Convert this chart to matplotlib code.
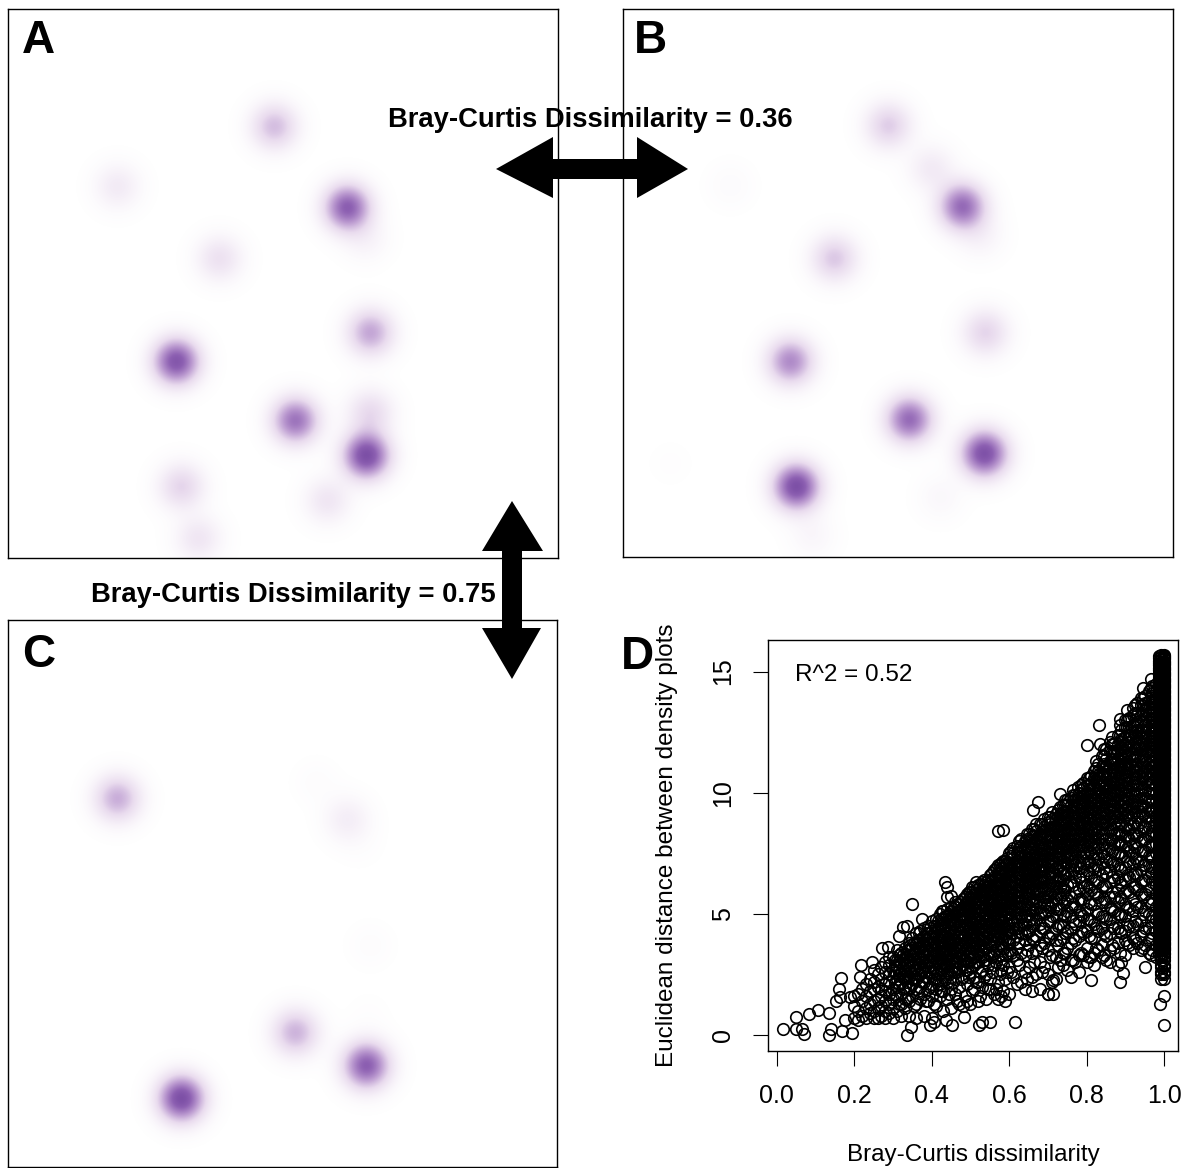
import numpy as np
import matplotlib.pyplot as plt
from matplotlib.colors import LinearSegmentedColormap
from matplotlib.patches import Polygon

plt.rcParams['font.family'] = ['Liberation Sans', 'DejaVu Sans']

W, H = 1185, 1168

a_x = [274, 117, 347, 365, 219, 370, 176, 295, 370, 366, 181, 327, 198]
a_y = [126, 186, 207, 238, 258, 332, 361, 420, 412, 455, 486, 500, 538]
a_s = [0.36, 0.14, 0.76, 0.08, 0.20, 0.45, 0.82, 0.66, 0.24, 0.88, 0.27, 0.17, 0.17]

b_x = [888, 931, 730, 962, 980, 834, 985, 790, 909, 984, 796, 940, 812, 670]
b_y = [125, 168, 185, 206, 235, 258, 332, 361, 419, 453, 486, 497, 535, 463]
b_s = [0.30, 0.14, 0.03, 0.70, 0.08, 0.32, 0.27, 0.56, 0.70, 0.86, 0.88, 0.05, 0.06, 0.01]

c_x = [117, 316, 347, 360, 370, 295, 366, 181, 368]
c_y = [798, 782, 819, 845, 945, 1032, 1065, 1098, 1015]
c_s = [0.42, 0.02, 0.12, 0.01, 0.02, 0.40, 0.76, 0.88, 0.01]

# scatter in panel D: the loose points
loose_x = [0.016, 0.05, 0.05, 0.065, 0.07, 0.083, 0.106, 0.134, 0.139, 0.134, 0.153, 0.16, 0.165,
           0.162, 0.19, 0.167, 0.195, 0.176, 0.214, 0.216, 0.246, 0.271, 0.288, 0.316, 0.325, 0.335,
           0.349, 0.375, 0.367, 0.335, 0.347, 0.435, 0.44, 0.44, 0.45, 0.426, 0.484, 0.521, 0.531,
           0.55, 0.615, 0.571, 0.585, 0.661, 0.675, 0.731, 0.778, 0.801, 0.832, 0.834, 0.885, 1.0,
           0.99, 1.0, 0.95, 0.81, 0.713, 0.699, 0.713, 0.885, 0.895, 0.395, 0.405, 0.437, 0.452]
loose_y = [0.25, 0.75, 0.25, 0.25, 0.05, 0.87, 1.04, 0.0, 0.25, 0.9, 1.4, 1.9, 2.35,
           1.55, 1.55, 0.17, 0.1, 0.6, 2.4, 2.9, 3.0, 3.6, 3.65, 4.1, 4.45, 4.5,
           5.4, 4.8, 4.2, 0.0, 0.32, 6.3, 6.1, 5.7, 5.75, 5.1, 0.75, 0.4, 0.55,
           0.55, 0.55, 8.4, 8.45, 9.3, 9.6, 9.95, 10.25, 11.95, 12.8, 12.0, 13.05, 0.43,
           1.3, 1.6, 2.8, 2.25, 1.7, 1.7, 2.25, 2.2, 2.55, 0.4, 0.55, 0.6, 0.4]

# scatter in panel D: the crowded wedge, one list of y per x
wedge_x = [0.20, 0.21, 0.22, 0.23, 0.24, 0.25, 0.26, 0.27, 0.28, 0.29,
           0.30, 0.31, 0.32, 0.33, 0.34, 0.35, 0.36, 0.37, 0.38, 0.39,
           0.40, 0.41, 0.42, 0.43, 0.44, 0.45, 0.46, 0.47, 0.48, 0.49,
           0.50, 0.51, 0.52, 0.53, 0.54, 0.55, 0.56, 0.57, 0.58, 0.59,
           0.60, 0.62, 0.64, 0.66, 0.68, 0.70, 0.72, 0.74, 0.76, 0.78,
           0.80, 0.82, 0.84, 0.86, 0.88, 0.90, 0.92, 0.94, 0.96, 0.98]
wedge_y = [
    [0.7, 1.2, 1.6],
    [0.6, 1.0, 1.7],
    [0.8, 1.4, 1.9],
    [0.7, 1.1, 1.6, 2.1],
    [0.9, 1.3, 1.8, 2.3],
    [0.7, 1.0, 1.4, 1.9, 2.2, 2.7],
    [0.7, 1.1, 1.5, 2.0, 2.5],
    [0.8, 1.2, 1.6, 1.9, 2.3, 2.8],
    [0.7, 1.0, 1.4, 1.8, 2.1, 2.6, 3.0],
    [0.9, 1.3, 1.7, 2.2, 2.5, 2.9, 3.2],
    [0.7, 1.1, 1.5, 1.9, 2.4, 2.7, 3.2],
    [1.0, 1.6, 2.0, 2.3, 2.8, 3.1, 3.5],
    [0.8, 1.3, 1.7, 2.2, 2.6, 3.0, 3.4],
    [1.1, 1.5, 2.0, 2.3, 2.7, 3.2, 3.6],
    [0.8, 1.4, 1.9, 2.4, 2.8, 3.1, 3.5, 3.8],
    [1.6, 2.1, 2.5, 2.9, 3.3, 3.6, 4.0],
    [0.7, 1.3, 1.9, 2.3, 2.7, 3.0, 3.4, 3.8, 4.2],
    [1.5, 2.0, 2.5, 2.8, 3.2, 3.6, 3.9, 4.3],
    [0.8, 1.7, 2.2, 2.6, 3.0, 3.3, 3.7, 4.1, 4.4],
    [1.4, 1.9, 2.4, 2.8, 3.1, 3.5, 3.8, 4.2, 4.5],
    [0.7, 1.6, 2.1, 2.6, 2.9, 3.3, 3.6, 4.0, 4.3, 4.7],
    [1.2, 1.9, 2.3, 2.7, 3.1, 3.4, 3.8, 4.1, 4.5, 4.8],
    [1.6, 2.1, 2.5, 2.9, 3.2, 3.6, 3.9, 4.3, 4.6, 5.0],
    [1.0, 1.8, 2.4, 2.8, 3.0, 3.4, 3.7, 4.1, 4.4, 4.8, 5.1],
    [1.5, 2.2, 2.6, 2.9, 3.3, 3.6, 3.9, 4.2, 4.6, 4.9, 5.2],
    [1.1, 1.9, 2.4, 2.7, 3.1, 3.4, 3.8, 4.1, 4.4, 4.8, 5.1, 5.3],
    [1.7, 2.3, 2.6, 3.0, 3.3, 3.6, 3.9, 4.3, 4.6, 5.0, 5.3, 5.5],
    [1.3, 2.0, 2.8, 3.2, 3.5, 3.8, 4.1, 4.5, 4.8, 5.1, 5.4],
    [1.2, 2.4, 2.9, 3.1, 3.4, 3.7, 4.0, 4.4, 4.7, 5.0, 5.3, 5.6],
    [1.4, 2.1, 2.7, 3.0, 3.3, 3.6, 3.9, 4.3, 4.6, 4.9, 5.2, 5.5, 5.8],
    [1.3, 2.6, 3.1, 3.4, 3.7, 4.0, 4.2, 4.5, 4.8, 5.1, 5.4, 5.7, 5.9],
    [1.9, 2.4, 2.9, 3.2, 3.6, 3.9, 4.3, 4.6, 4.9, 5.2, 5.5, 5.8, 6.1],
    [1.4, 2.2, 3.0, 3.4, 3.7, 4.1, 4.4, 4.7, 5.0, 5.3, 5.6, 5.9, 6.2],
    [2.0, 2.7, 3.2, 3.5, 3.9, 4.2, 4.5, 4.8, 5.2, 5.5, 5.8, 6.0, 6.3],
    [1.5, 2.5, 3.1, 3.6, 4.0, 4.3, 4.6, 4.9, 5.3, 5.6, 5.9, 6.1, 6.3],
    [1.9, 2.3, 3.3, 3.7, 3.9, 4.2, 4.5, 4.8, 5.1, 5.4, 5.7, 6.0, 6.3, 6.6],
    [1.7, 2.9, 3.4, 3.8, 4.1, 4.4, 4.7, 5.0, 5.3, 5.6, 5.9, 6.2, 6.5, 6.8],
    [1.5, 2.2, 3.2, 3.6, 4.0, 4.3, 4.6, 4.9, 5.2, 5.5, 5.8, 6.1, 6.4, 6.7, 7.0],
    [1.6, 2.7, 3.0, 3.7, 4.1, 4.4, 4.8, 5.1, 5.4, 5.7, 6.0, 6.3, 6.6, 6.9, 7.1],
    [1.4, 2.3, 3.3, 3.9, 4.2, 4.5, 4.9, 5.2, 5.5, 5.8, 6.1, 6.4, 6.7, 7.0, 7.2],
    [1.7, 2.8, 3.5, 3.8, 4.0, 4.3, 4.6, 5.0, 5.3, 5.6, 5.9, 6.2, 6.5, 6.8, 7.1, 7.5],
    [2.1, 3.1, 3.6, 4.1, 4.4, 4.7, 5.0, 5.3, 5.5, 5.7, 6.0, 6.2, 6.5, 6.7, 7.0, 7.2, 7.5, 7.8],
    [1.9, 2.6, 3.3, 3.9, 4.2, 4.6, 4.9, 5.2, 5.4, 5.7, 5.9, 6.2, 6.4, 6.7, 6.9, 7.2, 7.4, 7.7, 8.0],
    [1.8, 2.4, 3.4, 4.0, 4.5, 4.8, 5.1, 5.4, 5.6, 5.9, 6.1, 6.4, 6.6, 6.9, 7.1, 7.4, 7.7, 7.9, 8.2, 8.5],
    [1.9, 3.0, 3.7, 4.3, 4.6, 5.0, 5.3, 5.5, 5.8, 6.0, 6.3, 6.5, 6.8, 7.0, 7.3, 7.5, 7.8, 8.1, 8.3, 8.7],
    [1.7, 2.5, 3.5, 4.1, 4.7, 5.1, 5.4, 5.7, 6.0, 6.2, 6.5, 6.7, 7.0, 7.2, 7.5, 7.7, 8.0, 8.2, 8.5, 8.8, 9.0],
    [2.3, 3.2, 3.9, 4.4, 4.9, 5.2, 5.6, 5.9, 6.1, 6.4, 6.6, 6.9, 7.1, 7.4, 7.6, 7.9, 8.1, 8.4, 8.6, 8.9, 9.1],
    [2.9, 3.4, 4.0, 4.5, 5.0, 5.4, 5.8, 6.1, 6.4, 6.7, 6.9, 7.2, 7.4, 7.7, 7.9, 8.2, 8.4, 8.7, 8.9, 9.2, 9.5],
    [2.4, 3.1, 3.8, 4.4, 4.9, 5.3, 5.7, 6.3, 6.7, 7.0, 7.3, 7.5, 7.8, 8.0, 8.3, 8.5, 8.8, 9.0, 9.3, 9.5, 9.8],
    [2.6, 3.3, 4.1, 4.7, 5.1, 5.6, 6.0, 6.5, 6.9, 7.2, 7.6, 7.8, 8.1, 8.3, 8.6, 8.8, 9.1, 9.3, 9.6, 9.8, 10.0],
    [3.0, 3.6, 4.3, 4.8, 5.2, 5.8, 6.2, 6.8, 7.1, 7.5, 7.8, 8.0, 8.3, 8.5, 8.8, 9.0, 9.3, 9.5, 9.8, 10.0, 10.3, 10.6],
    [2.9, 3.4, 4.0, 4.6, 5.4, 5.9, 6.4, 6.9, 7.3, 7.7, 8.0, 8.3, 8.5, 8.8, 9.0, 9.3, 9.5, 9.8, 10.0, 10.3, 10.6, 10.9],
    [3.2, 3.7, 4.4, 4.9, 5.5, 6.1, 6.6, 7.1, 7.5, 7.9, 8.2, 8.5, 8.8, 9.0, 9.3, 9.5, 9.8, 10.0, 10.3, 10.5, 10.8, 11.1, 11.5],
    [3.0, 3.5, 4.2, 4.8, 5.3, 5.7, 6.3, 6.8, 7.2, 7.7, 8.1, 8.4, 8.7, 9.0, 9.3, 9.5, 9.8, 10.0, 10.3, 10.5, 10.8, 11.0, 11.3, 11.7, 12.1],
    [2.9, 3.8, 4.4, 5.0, 5.5, 6.0, 6.5, 7.0, 7.5, 7.9, 8.3, 8.7, 9.0, 9.3, 9.6, 9.9, 10.1, 10.4, 10.6, 10.9, 11.1, 11.4, 11.7, 12.0, 12.4],
    [3.3, 3.9, 4.3, 4.9, 5.4, 5.9, 6.4, 6.9, 7.4, 7.8, 8.2, 8.6, 9.0, 9.3, 9.6, 9.9, 10.2, 10.5, 10.7, 11.0, 11.2, 11.5, 11.7, 12.0, 12.3, 12.7, 13.0],
    [3.6, 4.0, 4.5, 5.1, 5.6, 6.1, 6.6, 7.1, 7.5, 7.9, 8.3, 8.7, 9.1, 9.4, 9.7, 10.0, 10.3, 10.6, 10.9, 11.1, 11.4, 11.6, 11.9, 12.2, 12.5, 12.8, 13.2, 13.5],
    [3.5, 4.1, 4.7, 5.3, 5.8, 6.3, 6.8, 7.2, 7.6, 8.0, 8.4, 8.8, 9.2, 9.5, 9.8, 10.1, 10.4, 10.7, 11.0, 11.3, 11.5, 11.8, 12.0, 12.3, 12.6, 12.9, 13.2, 13.6, 13.9],
    [3.4, 3.9, 4.4, 5.0, 5.5, 6.0, 6.5, 7.0, 7.4, 7.8, 8.2, 8.6, 9.0, 9.3, 9.7, 10.0, 10.3, 10.6, 10.9, 11.2, 11.5, 11.7, 12.0, 12.3, 12.6, 12.9, 13.2, 13.5, 13.8, 14.2],
    [3.2, 3.7, 4.3, 4.8, 5.3, 5.8, 6.2, 6.7, 7.1, 7.5, 7.9, 8.3, 8.7, 9.0, 9.4, 9.7, 10.0, 10.3, 10.6, 10.9, 11.2, 11.5, 11.8, 12.1, 12.4, 12.7, 13.0, 13.3, 13.6, 13.9, 14.2, 14.5],
]

# more of the crowded wedge, between the columns above
fill_x = [0.305, 0.315, 0.325, 0.335, 0.345, 0.355, 0.365, 0.375, 0.385, 0.395,
          0.405, 0.415, 0.425, 0.435, 0.445, 0.455, 0.465, 0.475, 0.485, 0.495,
          0.505, 0.515, 0.525, 0.535, 0.545, 0.555, 0.565, 0.575, 0.585, 0.595,
          0.61, 0.63, 0.65, 0.67, 0.69, 0.71, 0.73, 0.75, 0.77, 0.79,
          0.81, 0.83, 0.85, 0.87, 0.89, 0.91, 0.93, 0.95, 0.97,
          0.605, 0.625, 0.645, 0.665, 0.685, 0.705, 0.725, 0.745, 0.765, 0.785,
          0.805, 0.825, 0.845, 0.865, 0.885, 0.905, 0.925, 0.945, 0.965, 0.985]
fill_y = [
    [1.7, 2.2, 2.6, 2.9, 3.1],
    [1.3, 2.1, 2.5, 2.7, 3.0, 3.3],
    [1.9, 2.4, 2.8, 3.1, 3.3],
    [1.5, 2.2, 2.5, 2.9, 3.2, 3.5],
    [2.0, 2.6, 3.0, 3.3, 3.7],
    [1.2, 2.3, 2.7, 3.1, 3.4, 3.8],
    [1.8, 2.5, 2.9, 3.2, 3.6, 3.9],
    [2.2, 2.7, 3.0, 3.4, 3.7, 4.0],
    [1.4, 2.4, 2.9, 3.2, 3.5, 3.9, 4.2],
    [2.0, 2.6, 3.0, 3.4, 3.7, 4.1, 4.4],
    [1.3, 2.3, 2.8, 3.2, 3.5, 3.8, 4.2, 4.5],
    [2.1, 2.6, 3.0, 3.3, 3.7, 4.0, 4.4, 4.7],
    [1.8, 2.7, 3.1, 3.4, 3.8, 4.1, 4.5, 4.8],
    [2.3, 2.9, 3.2, 3.5, 3.8, 4.2, 4.5, 4.9],
    [1.7, 2.5, 3.0, 3.4, 3.7, 4.0, 4.3, 4.7, 5.0],
    [2.2, 2.8, 3.2, 3.5, 3.9, 4.2, 4.6, 4.9, 5.2],
    [1.4, 2.6, 3.0, 3.4, 3.7, 4.0, 4.4, 4.7, 5.1, 5.4],
    [2.3, 2.9, 3.3, 3.6, 3.9, 4.2, 4.5, 4.9, 5.2, 5.5],
    [1.6, 2.7, 3.1, 3.5, 3.8, 4.1, 4.5, 4.8, 5.1, 5.4, 5.7],
    [2.4, 3.0, 3.4, 3.7, 4.1, 4.4, 4.7, 5.0, 5.3, 5.6, 5.9],
    [1.8, 2.8, 3.2, 3.6, 3.9, 4.2, 4.6, 4.9, 5.3, 5.6, 5.9, 6.1],
    [2.2, 3.0, 3.5, 3.8, 4.1, 4.5, 4.8, 5.1, 5.4, 5.7, 6.0, 6.3],
    [1.6, 2.6, 3.3, 3.7, 4.0, 4.4, 4.7, 5.0, 5.3, 5.6, 5.9, 6.2],
    [2.4, 3.1, 3.6, 4.0, 4.3, 4.6, 5.0, 5.3, 5.7, 6.0, 6.2, 6.4],
    [1.9, 2.9, 3.4, 3.8, 4.2, 4.5, 4.8, 5.2, 5.5, 5.8, 6.1, 6.4],
    [2.6, 3.2, 3.7, 4.1, 4.4, 4.7, 5.1, 5.4, 5.7, 6.0, 6.4, 6.7],
    [1.9, 3.0, 3.5, 3.9, 4.3, 4.6, 5.0, 5.3, 5.6, 5.9, 6.2, 6.5, 6.9],
    [2.5, 3.3, 3.8, 4.2, 4.5, 4.8, 5.1, 5.5, 5.8, 6.1, 6.4, 6.7, 7.0],
    [1.8, 2.9, 3.6, 4.0, 4.4, 4.7, 5.1, 5.4, 5.7, 6.0, 6.3, 6.6, 6.9, 7.2],
    [2.6, 3.4, 3.9, 4.3, 4.6, 5.0, 5.3, 5.6, 5.9, 6.2, 6.5, 6.8, 7.1, 7.3],
    [2.4, 3.3, 3.9, 4.4, 4.7, 5.1, 5.4, 5.6, 5.8, 6.1, 6.3, 6.6, 6.8, 7.0, 7.3, 7.5, 7.7],
    [2.2, 3.4, 4.2, 4.6, 4.9, 5.2, 5.5, 5.7, 5.9, 6.2, 6.4, 6.7, 6.9, 7.1, 7.4, 7.6, 7.8, 8.1],
    [2.8, 3.7, 4.3, 4.7, 5.0, 5.3, 5.6, 5.8, 6.1, 6.3, 6.6, 6.8, 7.1, 7.3, 7.5, 7.7, 8.0, 8.3],
    [2.5, 3.5, 4.1, 4.8, 5.2, 5.5, 5.8, 6.0, 6.3, 6.5, 6.7, 7.0, 7.2, 7.4, 7.6, 7.9, 8.1, 8.4, 8.7],
    [2.8, 3.8, 4.4, 5.0, 5.4, 5.7, 6.0, 6.3, 6.5, 6.8, 7.0, 7.2, 7.4, 7.7, 7.9, 8.2, 8.4, 8.6, 8.9],
    [2.2, 3.3, 4.2, 4.9, 5.5, 5.9, 6.2, 6.5, 6.7, 7.0, 7.2, 7.5, 7.7, 7.9, 8.2, 8.4, 8.6, 8.9, 9.2],
    [3.1, 3.9, 4.6, 5.2, 5.7, 6.1, 6.4, 6.8, 7.0, 7.3, 7.5, 7.7, 8.0, 8.2, 8.4, 8.7, 8.9, 9.1, 9.4],
    [2.7, 3.6, 4.3, 5.1, 5.6, 6.2, 6.7, 7.1, 7.4, 7.6, 7.9, 8.1, 8.3, 8.5, 8.8, 9.0, 9.2, 9.5, 9.7],
    [3.0, 3.9, 4.6, 5.3, 5.9, 6.5, 7.0, 7.3, 7.6, 7.8, 8.1, 8.3, 8.5, 8.7, 9.0, 9.2, 9.4, 9.7, 9.9],
    [3.3, 4.2, 4.9, 5.5, 6.1, 6.6, 7.1, 7.5, 7.8, 8.1, 8.3, 8.6, 8.8, 9.0, 9.2, 9.5, 9.7, 9.9, 10.2, 10.4],
    [3.2, 4.0, 4.7, 5.4, 6.0, 6.5, 7.0, 7.5, 7.9, 8.2, 8.5, 8.7, 8.9, 9.2, 9.4, 9.6, 9.9, 10.1, 10.4, 10.7],
    [3.5, 4.3, 5.0, 5.7, 6.3, 6.8, 7.3, 7.7, 8.1, 8.4, 8.7, 8.9, 9.2, 9.4, 9.6, 9.9, 10.1, 10.3, 10.6, 10.9, 11.2],
    [3.1, 4.1, 4.8, 5.5, 6.1, 6.7, 7.2, 7.7, 8.1, 8.5, 8.8, 9.1, 9.4, 9.6, 9.8, 10.1, 10.3, 10.6, 10.9, 11.1, 11.4, 11.8],
    [3.6, 4.4, 5.1, 5.7, 6.4, 7.0, 7.5, 7.9, 8.3, 8.7, 9.0, 9.3, 9.6, 9.9, 10.1, 10.4, 10.7, 10.9, 11.2, 11.4, 11.7, 12.0],
    [3.0, 4.2, 4.9, 5.6, 6.2, 6.8, 7.4, 7.9, 8.3, 8.7, 9.1, 9.4, 9.7, 10.0, 10.3, 10.6, 10.8, 11.1, 11.3, 11.6, 11.9, 12.2, 12.6],
    [3.7, 4.5, 5.2, 5.9, 6.5, 7.1, 7.6, 8.1, 8.5, 8.9, 9.2, 9.5, 9.8, 10.1, 10.4, 10.7, 11.0, 11.2, 11.5, 11.8, 12.1, 12.4, 12.7, 13.1],
    [3.8, 4.6, 5.3, 6.0, 6.6, 7.2, 7.7, 8.2, 8.6, 9.0, 9.4, 9.7, 10.0, 10.3, 10.6, 10.9, 11.2, 11.5, 11.8, 12.0, 12.3, 12.6, 12.9, 13.3, 13.7],
    [3.7, 4.4, 5.1, 5.8, 6.4, 7.0, 7.6, 8.1, 8.6, 9.0, 9.4, 9.8, 10.1, 10.5, 10.8, 11.1, 11.4, 11.7, 12.0, 12.3, 12.5, 12.8, 13.1, 13.4, 13.7, 14.0],
    [3.5, 4.2, 4.9, 5.6, 6.3, 6.9, 7.4, 7.9, 8.4, 8.9, 9.3, 9.7, 10.1, 10.4, 10.8, 11.1, 11.4, 11.7, 12.0, 12.3, 12.6, 12.9, 13.2, 13.5, 13.8, 14.1, 14.4],
    [2.6, 3.4, 4.2, 4.8, 5.2, 5.5, 5.8, 6.1, 6.4, 6.6, 6.9, 7.1, 7.4, 7.6],
    [2.9, 3.8, 4.4, 5.0, 5.3, 5.7, 6.0, 6.2, 6.5, 6.7, 7.0, 7.2, 7.5, 7.7, 8.0],
    [2.3, 3.5, 4.3, 4.9, 5.4, 5.8, 6.1, 6.4, 6.6, 6.9, 7.1, 7.3, 7.6, 7.8, 8.1, 8.3],
    [3.0, 3.9, 4.6, 5.2, 5.6, 6.0, 6.3, 6.6, 6.8, 7.0, 7.3, 7.5, 7.7, 8.0, 8.2, 8.5],
    [2.6, 3.6, 4.4, 5.1, 5.7, 6.1, 6.5, 6.8, 7.0, 7.2, 7.5, 7.7, 7.9, 8.2, 8.4, 8.7],
    [3.2, 4.0, 4.7, 5.3, 5.8, 6.3, 6.7, 7.0, 7.3, 7.5, 7.8, 8.0, 8.2, 8.5, 8.7, 9.0],
    [2.8, 3.7, 4.5, 5.2, 5.8, 6.4, 6.9, 7.3, 7.6, 7.8, 8.0, 8.3, 8.5, 8.7, 9.0, 9.3],
    [3.4, 4.2, 4.9, 5.5, 6.0, 6.6, 7.1, 7.5, 7.8, 8.0, 8.3, 8.5, 8.8, 9.0, 9.2, 9.5, 9.7],
    [3.1, 4.0, 4.7, 5.4, 6.2, 6.8, 7.2, 7.6, 7.9, 8.2, 8.5, 8.7, 9.0, 9.2, 9.4, 9.7, 9.9, 10.1],
    [3.4, 4.3, 5.0, 5.6, 6.3, 6.9, 7.4, 7.8, 8.1, 8.4, 8.7, 8.9, 9.1, 9.4, 9.6, 9.8, 10.1, 10.3],
    [3.2, 4.1, 4.8, 5.5, 6.1, 6.7, 7.2, 7.6, 8.0, 8.3, 8.6, 8.9, 9.2, 9.4, 9.6, 9.9, 10.1, 10.3, 10.6],
    [3.6, 4.4, 5.1, 5.8, 6.4, 7.0, 7.5, 7.9, 8.3, 8.6, 8.9, 9.2, 9.5, 9.7, 10.0, 10.2, 10.5, 10.7, 11.0, 11.3],
    [3.3, 4.2, 4.9, 5.6, 6.2, 6.9, 7.4, 7.9, 8.3, 8.7, 9.0, 9.3, 9.6, 9.9, 10.2, 10.4, 10.7, 11.0, 11.2, 11.5, 11.8],
    [3.7, 4.5, 5.2, 5.9, 6.5, 7.1, 7.6, 8.1, 8.5, 8.9, 9.2, 9.5, 9.8, 10.1, 10.4, 10.6, 10.9, 11.2, 11.4, 11.7, 12.0, 12.3],
    [3.4, 4.3, 5.0, 5.7, 6.3, 6.9, 7.5, 8.0, 8.4, 8.8, 9.2, 9.5, 9.8, 10.1, 10.4, 10.7, 11.0, 11.2, 11.5, 11.8, 12.1, 12.4, 12.8],
    [3.8, 4.6, 5.3, 6.0, 6.6, 7.2, 7.7, 8.2, 8.7, 9.1, 9.4, 9.8, 10.1, 10.4, 10.7, 11.0, 11.3, 11.6, 11.9, 12.1, 12.4, 12.7, 13.0, 13.4],
    [3.9, 4.7, 5.4, 6.1, 6.7, 7.3, 7.8, 8.3, 8.8, 9.2, 9.6, 9.9, 10.3, 10.6, 10.9, 11.2, 11.5, 11.8, 12.1, 12.4, 12.7, 13.0, 13.3, 13.6],
    [3.6, 4.3, 5.0, 5.7, 6.4, 7.0, 7.6, 8.1, 8.6, 9.1, 9.5, 9.9, 10.2, 10.6, 10.9, 11.2, 11.5, 11.8, 12.1, 12.4, 12.7, 13.0, 13.3, 13.6, 13.9, 14.3],
    [3.3, 4.0, 4.7, 5.4, 6.1, 6.7, 7.3, 7.8, 8.3, 8.8, 9.2, 9.6, 10.0, 10.4, 10.7, 11.0, 11.3, 11.6, 11.9, 12.2, 12.5, 12.8, 13.1, 13.4, 13.7, 14.0, 14.3, 14.7],
]

# scatter in panel D: the solid stack at dissimilarity = 1
edge_x = [1.0, 0.993]
edge_y = [2.3, 2.5, 2.6, 2.8, 2.9, 3.1, 3.2, 3.4, 3.5, 3.6, 3.7, 3.8, 3.9, 4.0, 4.1, 4.2, 4.3, 4.4, 4.5, 4.6,
          4.7, 4.8, 4.9, 5.0, 5.1, 5.2, 5.3, 5.4, 5.5, 5.6, 5.7, 5.8, 5.9, 6.0, 6.1, 6.2, 6.3, 6.4, 6.5, 6.6,
          6.7, 6.8, 6.9, 7.0, 7.1, 7.2, 7.3, 7.4, 7.5, 7.6, 7.7, 7.8, 7.9, 8.0, 8.1, 8.2, 8.3, 8.4, 8.5, 8.6,
          8.7, 8.8, 8.9, 9.0, 9.1, 9.2, 9.3, 9.4, 9.5, 9.6, 9.7, 9.8, 9.9, 10.0, 10.1, 10.2, 10.3, 10.4, 10.5,
          10.6, 10.7, 10.8, 10.9, 11.0, 11.1, 11.2, 11.3, 11.4, 11.5, 11.6, 11.7, 11.8, 11.9, 12.0, 12.1, 12.2,
          12.3, 12.4, 12.5, 12.6, 12.7, 12.8, 12.9, 13.0, 13.1, 13.2, 13.3, 13.4, 13.5, 13.6, 13.7, 13.8, 13.9,
          14.0, 14.1, 14.2, 14.3, 14.4, 14.5, 14.6, 14.7, 14.8, 14.9, 15.0, 15.1, 15.2, 15.3, 15.4, 15.5, 15.6, 15.7]
edge2_x = [1.0, 0.986]
edge2_y = [3.35, 3.55, 3.65, 3.75, 3.85, 3.95, 4.05, 4.15, 4.25, 4.35, 4.45, 4.55, 4.65, 4.75, 4.85, 4.95,
           5.05, 5.15, 5.25, 5.35, 5.45, 5.55, 5.65, 5.75, 5.85, 5.95, 6.05, 6.15, 6.25, 6.35, 6.45, 6.55,
           6.65, 6.75, 6.85, 6.95, 7.05, 7.15, 7.25, 7.35, 7.45, 7.55, 7.65, 7.75, 7.85, 7.95, 8.05, 8.15,
           8.25, 8.35, 8.45, 8.55, 8.65, 8.75, 8.85, 8.95, 9.05, 9.15, 9.25, 9.35, 9.45, 9.55, 9.65, 9.75,
           9.85, 9.95, 10.05, 10.15, 10.25, 10.35, 10.45, 10.55, 10.65, 10.75, 10.85, 10.95, 11.05, 11.15,
           11.25, 11.35, 11.45, 11.55, 11.65, 11.75, 11.85, 11.95, 12.05, 12.15, 12.25, 12.35, 12.45, 12.55,
           12.65, 12.75, 12.85, 12.95, 13.05, 13.15, 13.25, 13.35, 13.45, 13.55, 13.65, 13.75, 13.85, 13.95,
           14.05, 14.15, 14.25, 14.35, 14.45, 14.55, 14.65, 14.75, 14.85, 14.95, 15.05, 15.15, 15.25, 15.35,
           15.45, 15.55, 15.65]

x_ticks = [0.0, 0.2, 0.4, 0.6, 0.8, 1.0]
y_ticks = [0, 5, 10, 15]

purple = LinearSegmentedColormap.from_list(
    'blob', ['#ffffff', '#e9dbee', '#bb9ad0', '#8d60b2', '#6f429c'])

fig = plt.figure(figsize=(W / 100, H / 100), dpi=100)


def make_axes(left, top, right, bottom):
    return fig.add_axes([left / W, 1 - bottom / H, (right - left) / W, (bottom - top) / H])


def density_panel(box, xs, ys, strengths):
    left, top, right, bottom = box
    ax = make_axes(left, top, right, bottom)
    gx, gy = np.meshgrid(np.arange(left, right, 1.0), np.arange(top, bottom, 1.0))
    field = np.zeros_like(gx)
    for x, y, s in zip(xs, ys, strengths):
        field += s * np.exp(-((gx - x) ** 2 + (gy - y) ** 2) / (2 * 15.5 ** 2))
    ax.imshow(field, cmap=purple, vmin=0, vmax=1, extent=(left, right, bottom, top),
              interpolation='bilinear', aspect='auto')
    ax.set_xticks([])
    ax.set_yticks([])
    for s in ax.spines.values():
        s.set_linewidth(1.0)
    return ax


density_panel((8, 9, 558, 558), a_x, a_y, a_s)
density_panel((623, 9, 1173, 557), b_x, b_y, b_s)
density_panel((8, 620, 557, 1167), c_x, c_y, c_s)

# panel D
ax = make_axes(768, 640, 1178, 1051)
style = dict(linestyle='none', marker='o', mfc='none', mec='black', ms=8.3, mew=1.2)
ax.plot(loose_x, loose_y, **style)
for x, ys in zip(wedge_x, wedge_y):
    ax.plot([x] * len(ys), ys, **style)
for x, ys in zip(fill_x, fill_y):
    ax.plot([x] * len(ys), ys, **style)
for x in edge_x:
    ax.plot([x] * len(edge_y), edge_y, **style)
for x in edge2_x:
    ax.plot([x] * len(edge2_y), edge2_y, **style)
ax.set_xlim(-0.023, 1.036)
ax.set_ylim(-0.66, 16.3)
ax.set_xticks(x_ticks)
ax.set_xticklabels([f'{t:.1f}' for t in x_ticks], fontsize=18)
ax.set_yticks(y_ticks)
ax.set_yticklabels([str(t) for t in y_ticks], fontsize=18, rotation=90, va='center')
ax.tick_params(length=11, width=0.8, pad=13)
ax.text(0.067, 0.915, 'R^2 = 0.52', transform=ax.transAxes, fontsize=17.5, va='center')
for s in ax.spines.values():
    s.set_linewidth(1.0)

# overlay in picture pixels for the letters, captions and arrows
top = fig.add_axes([0, 0, 1, 1], zorder=10)
top.set_xlim(0, W)
top.set_ylim(H, 0)
top.axis('off')
top.patch.set_alpha(0)

for letter, x, y in [('A', 22, 41), ('B', 634, 41), ('C', 22, 655), ('D', 621, 657)]:
    top.text(x, y, letter, fontsize=33, fontweight='bold', va='center', ha='left')

top.text(388, 120, 'Bray-Curtis Dissimilarity = 0.36', fontsize=19.7, fontweight='bold', va='center')
top.text(91, 595, 'Bray-Curtis Dissimilarity = 0.75', fontsize=19.7, fontweight='bold', va='center')
top.text(973, 1155, 'Bray-Curtis dissimilarity', fontsize=17.5, ha='center', va='center')
top.text(667, 845, 'Euclidean distance between density plots', fontsize=17.5,
         rotation=90, ha='center', va='center')

top.add_patch(Polygon([(496, 169), (553, 137), (553, 159), (637, 159), (637, 137), (688, 169),
                       (637, 198), (637, 179), (553, 179), (553, 198)], fc='black', ec='none'))
top.add_patch(Polygon([(512, 501), (543, 551), (522, 551), (522, 628), (541, 628), (512, 679),
                       (482, 628), (502, 628), (502, 551), (482, 551)], fc='black', ec='none'))

fig.savefig('out.png', dpi=100)
